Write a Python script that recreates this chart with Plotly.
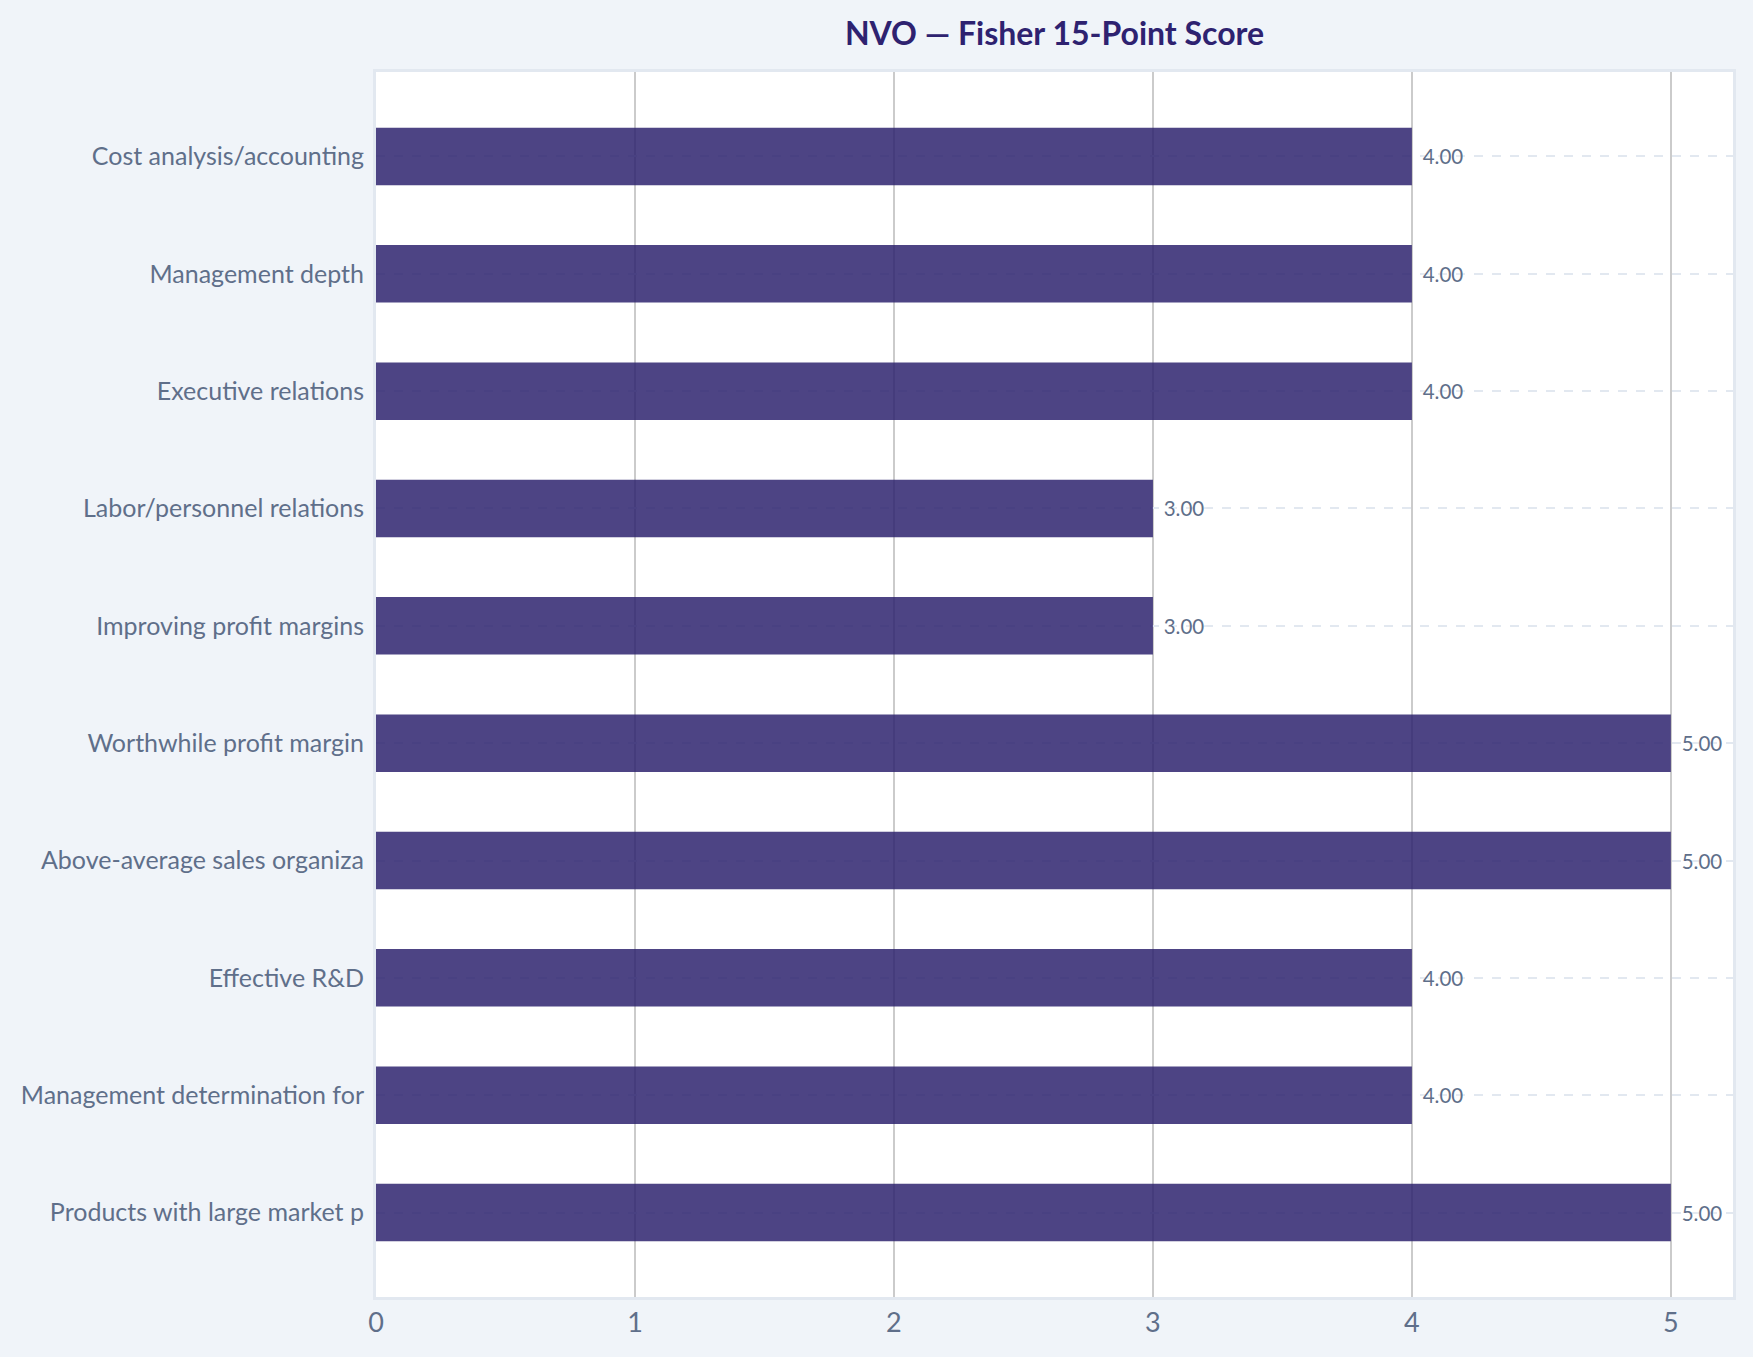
import plotly.graph_objects as go

categories = [
    "Products with large market p",
    "Management determination for",
    "Effective R&D",
    "Above-average sales organiza",
    "Worthwhile profit margin",
    "Improving profit margins",
    "Labor/personnel relations",
    "Executive relations",
    "Management depth",
    "Cost analysis/accounting",
]
scores = [5, 4, 4, 5, 5, 3, 3, 4, 4, 4]
x_ticks = [0, 1, 2, 3, 4, 5]

FONT = "Source Sans Pro, Lato, sans-serif"
SLATE = "#5f6f8a"

fig = go.Figure()
fig.add_trace(go.Bar(
    y=categories,
    x=scores,
    orientation="h",
    marker=dict(color="#2e236e", opacity=0.85, line=dict(width=0)),
    width=0.49,
    texttemplate="\u00a0\u2009%{x:.2f}",
    textposition="outside",
    constraintext="none",
    textfont=dict(family=FONT, size=20.5, color=SLATE, shadow="0px 0px 4px #ffffff"),
    cliponaxis=False,
    hoverinfo="skip",
))

fig.update_layout(
    width=1753,
    height=1357,
    margin=dict(l=376, r=20, t=72, b=60),
    paper_bgcolor="#f0f4f9",
    plot_bgcolor="#ffffff",
    showlegend=False,
    title=dict(
        text="<b>NVO — Fisher 15-Point Score</b>",
        x=0.5, xref="paper", xanchor="center",
        y=1 - 33.5 / 1357, yref="container", yanchor="middle",
        font=dict(family=FONT, size=32, color="#2e2270"),
    ),
    font=dict(family=FONT, color=SLATE),
)
fig.update_xaxes(
    range=[0, 5.24],
    tickvals=x_ticks,
    tickfont=dict(size=27, color=SLATE),
    showgrid=True, gridcolor="#cbcbcb", gridwidth=2,
    zeroline=False,
    showline=True, mirror=True, linecolor="#e2e8f0", linewidth=3,
    ticks="",
)
fig.update_yaxes(
    type="category",
    categoryorder="array", categoryarray=categories,
    range=[-0.72, 9.72],
    tickfont=dict(size=25, color=SLATE),
    showgrid=True, gridcolor="#e2e8f0", gridwidth=2, griddash="dash",
    showline=True, mirror=True, linecolor="#e2e8f0", linewidth=3,
    ticks="",
    ticklabelstandoff=4,
)

fig.write_html("out.html")
